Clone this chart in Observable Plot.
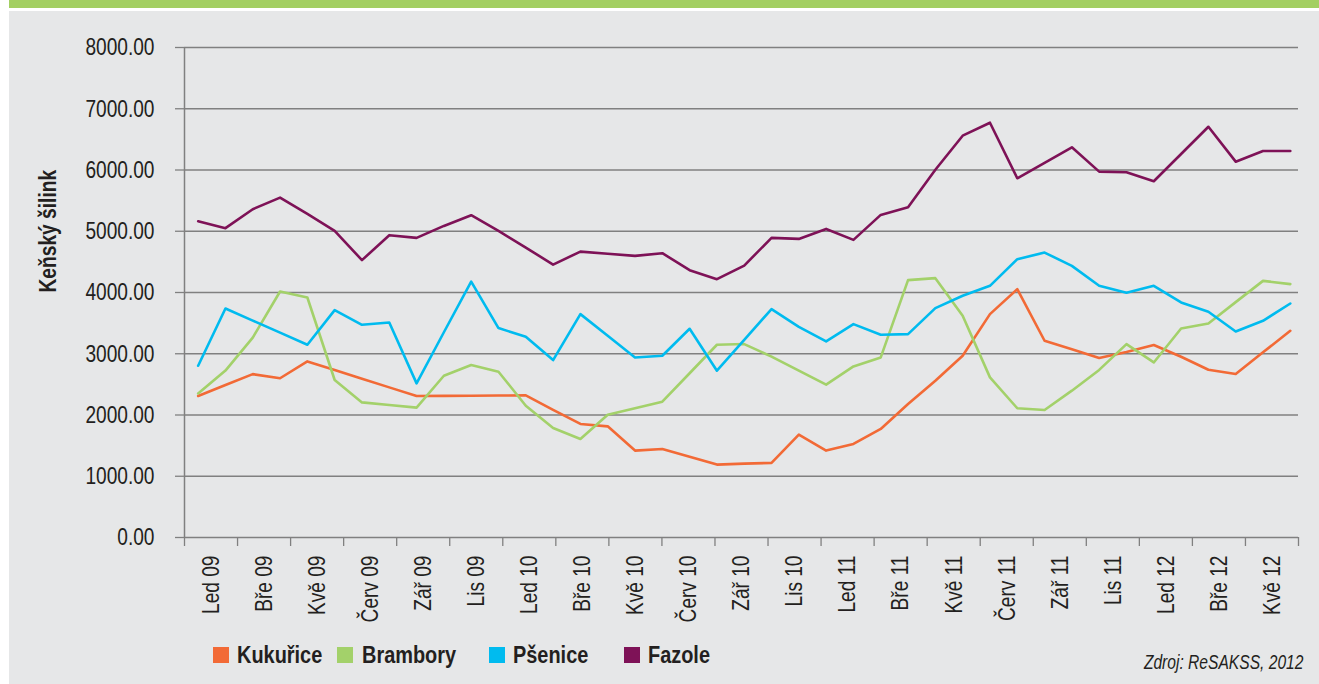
<!DOCTYPE html>
<html>
<head>
<meta charset="utf-8">
<script src="https://cdn.jsdelivr.net/npm/d3@7"></script>
<script src="https://cdn.jsdelivr.net/npm/@observablehq/plot@0.6"></script>
<style>
  body { margin: 0; background: #ffffff; }
  #wrap { position: relative; width: 1319px; height: 684px; overflow: hidden;
          font-family: "Liberation Sans", Arial, sans-serif; color: #231f20; }
  #bar { position: absolute; left: 9px; top: 0; width: 1310px; height: 8px; background: #a3cf62; }
  #panel { position: absolute; left: 9px; top: 11px; width: 1310px; height: 673px; background: #e6e7e8; }
  #chart { position: absolute; left: 0; top: 0; }
  .sw { position: absolute; top: 647px; width: 16px; height: 16px; }
  .lt { position: absolute; top: 640px; height: 30px; line-height: 30px; font-size: 24px; font-weight: bold;
        white-space: nowrap; transform: scaleX(0.83); transform-origin: 0 50%; }
  #cap { position: absolute; right: 16px; top: 648px; height: 28px; line-height: 28px; font-size: 19.5px;
         font-style: italic; white-space: nowrap; transform: scaleX(0.8); transform-origin: 100% 50%; }
</style>
</head>
<body>
<div id="wrap">
  <div id="bar"></div>
  <div id="panel"></div>
  <div id="chart"></div>
  <div id="legend"></div>
  <div id="cap">Zdroj: ReSAKSS, 2012</div>
</div>
<script>
// Category tick labels (each band covers two months)
const tickLabels = ["Led 09","Bře 09","Kvě 09","Červ 09","Zář 09","Lis 09",
                    "Led 10","Bře 10","Kvě 10","Červ 10","Zář 10","Lis 10",
                    "Led 11","Bře 11","Kvě 11","Červ 11","Zář 11","Lis 11",
                    "Led 12","Bře 12","Kvě 12"];
// Series names and colours
const seriesNames = ["Kukuřice","Brambory","Pšenice","Fazole"];
const seriesColors = ["#f26a36","#a3d16a","#00bbef","#7e1257"];
// Monthly values, Jan 2009 – May 2012 (41 months)
const kukurice = [2310,2490,2667,2600,2875,2734,2592,2451,2310,2313,2315,2318,2320,2085,1854,1815,
                  1419,1446,1320,1190,1206,1218,1679,1419,1528,1772,2180,2560,2968,3647,4055,3212,
                  3075,2930,3028,3142,2951,2739,2669,3023,3375];
const brambory = [2353,2725,3264,4016,3918,2571,2206,2163,2120,2641,2816,2707,2152,1789,1609,2005,
                  2112,2218,2682,3147,3158,2953,2723,2495,2793,2940,4202,4234,3620,2614,2110,2082,
                  2397,2736,3158,2858,3413,3494,3843,4190,4137];
const psenice  = [2804,3739,3541,3344,3147,3713,3473,3511,2516,3351,4179,3419,3277,2897,3647,3294,
                  2940,2968,3408,2723,3228,3729,3440,3201,3484,3310,3321,3745,3946,4109,4544,4652,
                  4435,4109,3995,4109,3837,3685,3364,3538,3820];
const fazole   = [5164,5050,5360,5549,5283,5006,4528,4936,4892,5087,5262,5006,4733,4456,4668,4633,
                  4598,4642,4365,4218,4440,4892,4875,5038,4859,5267,5392,6005,6560,6772,5865,6118,
                  6370,5973,5963,5816,6261,6706,6136,6310,6310];
const yTicks = [0,1000,2000,3000,4000,5000,6000,7000,8000];

const seriesValues = [kukurice, brambory, psenice, fazole];
const data = seriesNames.flatMap((name, s) => seriesValues[s].map((v, i) => ({name, i, v})));

// x domain in month units; the 21 labelled bands evenly partition it
const x0 = -0.5, x1 = 40.3;
const nb = tickLabels.length;
const bw = (x1 - x0) / nb;
const bounds = d3.range(nb + 1).map(k => x0 + k * bw);
const centers = d3.range(nb).map(k => x0 + (k + 0.5) * bw);

const H = 640;
const chart = Plot.plot({
  width: 1319,
  height: H,
  marginLeft: 184,
  marginRight: 21,
  marginTop: 47,
  marginBottom: H - 537,
  x: {domain: [x0, x1]},
  y: {domain: [0, 8000]},
  color: {domain: seriesNames, range: seriesColors},
  style: {
    background: "transparent",
    fontFamily: '"Liberation Sans", Arial, sans-serif',
    fontSize: "24.5px",
    color: "#231f20",
    overflow: "visible"
  },
  marks: [
    Plot.gridY(yTicks, {stroke: "#808080", strokeOpacity: 1, strokeWidth: 1.3}),
    Plot.axisY(yTicks, {tickSize: 9, tickPadding: 21, tickFormat: d3.format(".2f"),
                        stroke: "#808080", strokeWidth: 1.3, label: null}),
    Plot.ruleX([x0], {y1: 0, y2: 8000, stroke: "#808080", strokeWidth: 1.5}),
    Plot.axisX(bounds, {tickSize: 9, tickFormat: () => "", stroke: "#808080", strokeWidth: 1.3, label: null}),
    Plot.axisX(centers, {tickSize: 0, tickPadding: 18, tickRotate: -90,
                         tickFormat: d => tickLabels[centers.indexOf(d)], label: null}),
    Plot.lineY(data, {x: "i", y: "v", z: "name", stroke: "name", strokeWidth: 2.6}),
    Plot.text(["Keňský šilink"], {frameAnchor: "left", dx: -136, rotate: -90,
                                  fontWeight: "bold", fontSize: 24, className: "ylab"})
  ]
});
document.getElementById("chart").appendChild(chart);

// Emulate the condensed typeface: squeeze every text along its own direction
chart.querySelectorAll("text").forEach(t => {
  const bold = (t.closest("[font-weight]") && t.closest("[font-weight]").getAttribute("font-weight") === "bold");
  const s = bold ? 0.8 : 0.78;
  let tr = t.getAttribute("transform");
  if (!tr) {
    const x = t.getAttribute("x") || 0, y = t.getAttribute("y");
    tr = `translate(${x},0)`;
    t.removeAttribute("x");
  }
  t.setAttribute("transform", tr + ` scale(${s},1)`);
});

// Legend
const legPos = [[213,237],[337,362],[489,513],[624,648]];
const legend = document.getElementById("legend");
seriesNames.forEach((name, k) => {
  const sw = document.createElement("div");
  sw.className = "sw"; sw.style.left = legPos[k][0] + "px"; sw.style.background = seriesColors[k];
  const t = document.createElement("div");
  t.className = "lt"; t.style.left = legPos[k][1] + "px"; t.textContent = name;
  legend.appendChild(sw); legend.appendChild(t);
});
</script>
</body>
</html>
